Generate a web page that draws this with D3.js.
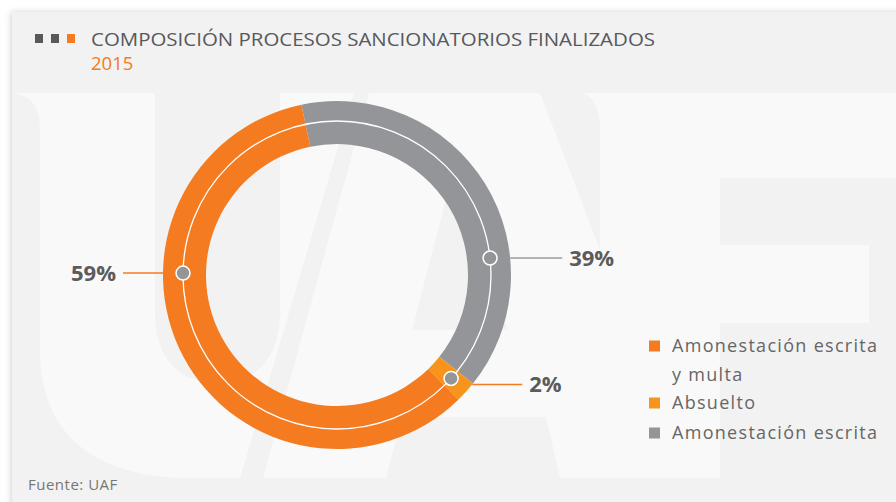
<!DOCTYPE html>
<html>
<head>
<meta charset="utf-8">
<script src="https://cdn.jsdelivr.net/npm/d3@7/dist/d3.min.js"></script>
<style>
body{margin:0;background:#fff;}
svg{display:block;font-family:"Open Sans",sans-serif;}
</style>
</head>
<body>
<div id="chart"></div>
<script>
// data, in legend order
var categories = ["Amonestación escrita y multa", "Absuelto", "Amonestación escrita"];
var legendLines = [["Amonestación escrita", "y multa"], ["Absuelto"], ["Amonestación escrita"]];
var values = [59, 2, 39];
var pctLabels = ["59%", "2%", "39%"];
var colors = ["#f47b20", "#f7941d", "#939598"];
var title = "COMPOSICIÓN PROCESOS SANCIONATORIOS FINALIZADOS";
var subtitle = "2015";
var source = "Fuente: UAF";

var W = 896, H = 502;
var cx = 337, cy = 275;
var rIn = 131, rOut = 174, rMid = 154;

var svg = d3.select("#chart").append("svg")
	.attr("width", W)
	.attr("height", H);

var defs = svg.append("defs");
var sh = defs.append("filter").attr("id", "shadow")
	.attr("x", "-5%").attr("y", "-5%").attr("width", "110%").attr("height", "110%");
sh.append("feDropShadow")
	.attr("dx", -1).attr("dy", 0)
	.attr("stdDeviation", 3)
	.attr("flood-color", "#000")
	.attr("flood-opacity", 0.18);

// card
svg.append("rect")
	.attr("x", 12).attr("y", 12)
	.attr("width", W).attr("height", H)
	.attr("fill", "#f2f2f2")
	.attr("filter", "url(#shadow)");

// UAF watermark (decoration behind the chart)
var wm = svg.append("g").attr("fill", "#f9f9f9");
wm.append("path").attr("d",
	"M14,93 L155,93 L155,312 C155,358 178,383 218,383 C256,383 280,358 280,312 L280,93 L354,93 " +
	"L240,478 L190,478 C90,478 40,430 40,350 L40,130 C40,105 30,96 14,93 Z");
wm.append("path").attr("fill-rule", "evenodd").attr("d",
	"M369,93 L540,93 L600,250 L600,130 Q600,93 577,93 L896,93 L896,178 L720,178 L720,245 L869,245 " +
	"L869,323 L720,323 L720,478 L263,478 Z" +
	"M455,165 L508,330 L412,330 Z" +
	"M402,417 L546,417 L560,478 L386,478 Z");

// title block
var sq = [0, 1, 2];
svg.selectAll("rect.sq").data(sq).enter().append("rect")
	.attr("class", "sq")
	.attr("x", function(d){ return 35 + d*16; })
	.attr("y", 34)
	.attr("width", 8).attr("height", 9)
	.attr("fill", function(d){ return d == 2 ? "#f47b20" : "#58595b"; });

svg.append("text")
	.text(title)
	.attr("x", 91).attr("y", 46)
	.attr("fill", "#58595b")
	.style("font-size", "19px")
	.attr("textLength", 564)
	.attr("lengthAdjust", "spacingAndGlyphs");

svg.append("text")
	.text(subtitle)
	.attr("x", 91).attr("y", 70)
	.attr("fill", "#f47b20")
	.style("font-size", "18.5px");

// donut
var order = [2, 1, 0]; // clockwise from the top: gray, absuelto, orange
var start = -11.8 * Math.PI / 180;
var pie = d3.pie()
	.sort(null)
	.value(function(d){ return values[d]; })
	.startAngle(start)
	.endAngle(start + 2*Math.PI);
var arcs = pie(order);

var arc = d3.arc().innerRadius(rIn).outerRadius(rOut);

var g = svg.append("g").attr("transform", "translate(" + cx + "," + cy + ")");
g.selectAll("path.slice").data(arcs).enter().append("path")
	.attr("class", "slice")
	.attr("d", arc)
	.attr("fill", function(d){ return colors[d.data]; });

g.append("circle")
	.attr("r", rMid)
	.attr("fill", "none")
	.attr("stroke", "#fff")
	.attr("stroke-width", 1.3);

// label layout: dot angle (deg, clockwise from top), side, leader length, line offset
var layout = {};
layout[0] = {angle: 270.7, side: -1, len: 40, dy: 0};
layout[2] = {angle: 83.7, side: 1, len: 52, dy: 0};
layout[1] = {angle: null, side: 1, len: 50, dy: 6};

arcs.forEach(function(a){
	var L = layout[a.data];
	var ang = L.angle == null ? (a.startAngle + a.endAngle) / 2 : L.angle * Math.PI / 180;
	var dx = rMid * Math.sin(ang), dy = -rMid * Math.cos(ang);
	var ly = dy + L.dy;
	var x0 = L.side * Math.sqrt(rOut*rOut - ly*ly);
	var x1 = x0 + L.side * L.len;
	g.append("line")
		.attr("x1", x0).attr("y1", ly)
		.attr("x2", x1).attr("y2", ly)
		.attr("stroke", a.data == 2 ? "#9a9b9d" : "#f47b20")
		.attr("stroke-width", 1.5);
	g.append("circle")
		.attr("cx", dx).attr("cy", dy)
		.attr("r", 7)
		.attr("fill", "#939598")
		.attr("stroke", "#fff")
		.attr("stroke-width", 1.5);
	g.append("text")
		.text(pctLabels[a.data])
		.attr("x", x1 + L.side * 7)
		.attr("y", ly)
		.attr("dy", "0.36em")
		.attr("text-anchor", L.side < 0 ? "end" : "start")
		.attr("fill", "#5b5b5b")
		.style("font-size", "22px")
		.style("font-weight", "700");
});

// legend
var legend = svg.append("g").attr("transform", "translate(649,0)");
var rowY = [346, 403, 433];
legendLines.forEach(function(lines, i){
	legend.append("rect")
		.attr("x", 0).attr("y", rowY[i] - 5.5)
		.attr("width", 11).attr("height", 11)
		.attr("fill", colors[i]);
	lines.forEach(function(t, j){
		legend.append("text")
			.text(t)
			.attr("x", 23)
			.attr("y", rowY[i] + j*29)
			.attr("dy", "0.35em")
			.attr("fill", "#666")
			.style("font-size", "18px")
			.style("letter-spacing", "1.3px");
	});
});

// source
svg.append("text")
	.text(source)
	.attr("x", 28).attr("y", 490)
	.attr("fill", "#777")
	.style("font-size", "15px")
	.style("letter-spacing", "0.5px");
</script>
</body>
</html>
